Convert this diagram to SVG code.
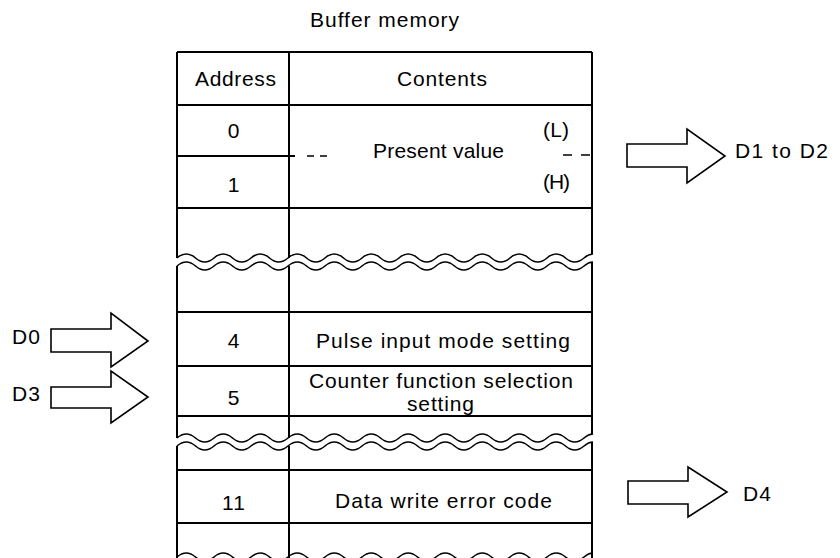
<svg xmlns="http://www.w3.org/2000/svg" xmlns:xlink="http://www.w3.org/1999/xlink" width="840" height="558" viewBox="0 0 840 558">
<style>
text{font-family:"Liberation Sans",Arial,sans-serif;font-size:21px;fill:#000;letter-spacing:1px}
.ln{stroke:#000;stroke-width:2;fill:none}
.wv{stroke:#000;stroke-width:1.6;fill:none}
.dash{stroke:#000;stroke-width:1.6;fill:none}
.arr{stroke:#000;stroke-width:1.6;fill:#fff;stroke-linejoin:miter}
.c{text-anchor:middle}
</style>
<defs>
<clipPath id="tclip"><rect x="176" y="0" width="417" height="558"/></clipPath>
<path id="wave" d="M177,0 Q186.25,-8 195.5,0 T214,0 T232.5,0 T251,0 T269.5,0 T288,0 T306.5,0 T325,0 T343.5,0 T362,0 T380.5,0 T399,0 T417.5,0 T436,0 T454.5,0 T473,0 T491.5,0 T510,0 T528.5,0 T547,0 T565.5,0 T584,0 T602.5,0"/>
</defs>
<rect width="840" height="558" fill="#fff"/>
<text id="title" x="310" y="27" textLength="150" lengthAdjust="spacing">Buffer memory</text>
<g id="table">
<g id="frame">
<path class="ln" d="M177,52 H592"/>
<path class="ln" d="M177,52 V258 M177,266 V438 M177,446 V558"/>
<path class="ln" d="M289,52 V258 M289,266 V438 M289,446 V558"/>
<path class="ln" d="M592,52 V254 M592,262 V434 M592,442 V558"/>
</g>
<g id="header">
<path class="ln" d="M177,105 H592"/>
<text x="195" y="86" textLength="82" lengthAdjust="spacing">Address</text>
<text x="397" y="86" textLength="91" lengthAdjust="spacing">Contents</text>
</g>
<g id="row-0-1">
<path class="ln" d="M177,156 H295"/>
<path class="dash" d="M307,156 H314 M320,156 H327 M563,155 H572 M581,155 H590"/>
<text class="c" x="234" y="138">0</text>
<text class="c" x="234" y="192">1</text>
<text x="373" y="158" textLength="132" lengthAdjust="spacing">Present value</text>
<text x="543" y="137" textLength="27" lengthAdjust="spacing">(L)</text>
<text x="543" y="189" textLength="28" lengthAdjust="spacing">(H)</text>
<path class="ln" d="M177,208 H592"/>
</g>
<g id="break-1" clip-path="url(#tclip)">
<use xlink:href="#wave" href="#wave" class="wv" transform="translate(0,258)"/>
<use xlink:href="#wave" href="#wave" class="wv" transform="translate(0,266)"/>
</g>
<g id="row-4">
<path class="ln" d="M177,312 H592"/>
<text class="c" x="234" y="348">4</text>
<text x="316" y="348" textLength="255" lengthAdjust="spacing">Pulse input mode setting</text>
<path class="ln" d="M177,366 H592"/>
</g>
<g id="row-5">
<text class="c" x="234" y="405">5</text>
<text x="309" y="388" textLength="265" lengthAdjust="spacing">Counter function selection</text>
<text x="407" y="411" textLength="68" lengthAdjust="spacing">setting</text>
<path class="ln" d="M177,416 H592"/>
</g>
<g id="break-2" clip-path="url(#tclip)">
<use xlink:href="#wave" href="#wave" class="wv" transform="translate(0,438)"/>
<use xlink:href="#wave" href="#wave" class="wv" transform="translate(0,446)"/>
</g>
<g id="row-11">
<path class="ln" d="M177,470 H592"/>
<text class="c" x="234" y="510">11</text>
<text x="335" y="508" textLength="218" lengthAdjust="spacing">Data write error code</text>
<path class="ln" d="M177,523 H592"/>
</g>
<g id="break-3" clip-path="url(#tclip)">
<use xlink:href="#wave" href="#wave" class="wv" transform="translate(0,557)"/>
</g>
</g>
<g id="connectors">
<g id="arrow-d0">
<path class="arr" d="M51,329 H111 V313 L148,341 L111,367 V352 H51 Z"/>
<text x="12" y="344">D0</text>
</g>
<g id="arrow-d3">
<path class="arr" d="M51,387 H111 V371 L148,397 L111,423 V408 H51 Z"/>
<text x="12" y="401">D3</text>
</g>
<g id="arrow-d1d2">
<path class="arr" d="M627,144 H687 V129 L725,156 L687,183 V167 H627 Z"/>
<text x="735" y="158" textLength="94" lengthAdjust="spacing">D1 to D2</text>
</g>
<g id="arrow-d4">
<path class="arr" d="M628,481 H688 V467 L727,492 L688,517 V504 H628 Z"/>
<text x="743" y="501">D4</text>
</g>
</g>
</svg>
